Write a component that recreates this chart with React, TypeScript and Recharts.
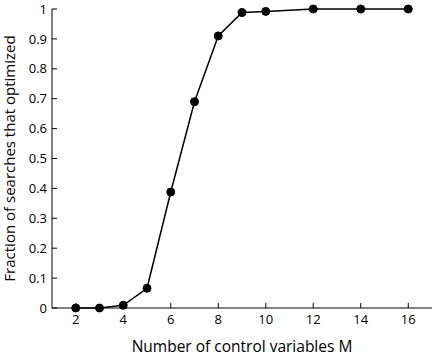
import { LineChart, Line, XAxis, YAxis } from "recharts"

const mValues = [2, 3, 4, 5, 6, 7, 8, 9, 10, 12, 14, 16]
const fractionOptimized = [0, 0, 0.009, 0.066, 0.388, 0.69, 0.91, 0.988, 0.992, 1, 1, 1]
const xTicks = [2, 4, 6, 8, 10, 12, 14, 16]
const yTicks = [0, 0.1, 0.2, 0.3, 0.4, 0.5, 0.6, 0.7, 0.8, 0.9, 1]

const data = mValues.map((m, i) => ({ m, frac: fractionOptimized[i] }))

const font = "'Open Sans', sans-serif"
const tickStyle = { fill: "#000", fontSize: 13, fontFamily: font }
const axisLine = { stroke: "#000", strokeWidth: 1 }

const fmtY = (v: number) => (v === 0 || v === 1 ? String(v) : v.toFixed(1))

export default function App() {
  return (
    <div style={{ position: "absolute", left: 0, top: 0, background: "#fff" }}>
      <LineChart width={436} height={356} data={data} margin={{ top: 9, right: 4, left: 0, bottom: 0 }}>
        <XAxis
          xAxisId="bottom"
          dataKey="m"
          type="number"
          domain={[1, 17]}
          ticks={xTicks}
          height={48}
          tickSize={-5}
          tickMargin={12}
          tick={tickStyle}
          axisLine={axisLine}
          tickLine={axisLine}
          label={{
            value: "Number of control variables M",
            position: "insideBottom",
            offset: 4,
            style: { fill: "#000", fontSize: 15.5, fontFamily: font },
          }}
        />
        <XAxis
          xAxisId="top"
          orientation="top"
          dataKey="m"
          type="number"
          domain={[1, 17]}
          ticks={xTicks}
          height={0}
          tickSize={-5}
          tick={false}
          axisLine={axisLine}
          tickLine={axisLine}
        />
        <YAxis
          yAxisId="left"
          type="number"
          domain={[0, 1]}
          ticks={yTicks}
          width={52}
          tickSize={-5}
          tickMargin={10}
          tickFormatter={fmtY}
          tick={tickStyle}
          axisLine={axisLine}
          tickLine={axisLine}
          label={{
            value: "Fraction of searches that optimized",
            angle: -90,
            position: "insideLeft",
            offset: 10,
            style: { fill: "#000", fontSize: 15, fontFamily: font, textAnchor: "middle" },
          }}
        />
        <YAxis
          yAxisId="right"
          orientation="right"
          type="number"
          domain={[0, 1]}
          ticks={yTicks}
          width={0}
          tickSize={-5}
          tick={false}
          axisLine={axisLine}
          tickLine={axisLine}
        />
        <Line
          xAxisId="bottom"
          yAxisId="left"
          type="linear"
          dataKey="frac"
          stroke="#000"
          strokeWidth={1.5}
          dot={{ r: 4, fill: "#000", stroke: "#000", strokeWidth: 1 }}
          isAnimationActive={false}
        />
      </LineChart>
    </div>
  )
}
